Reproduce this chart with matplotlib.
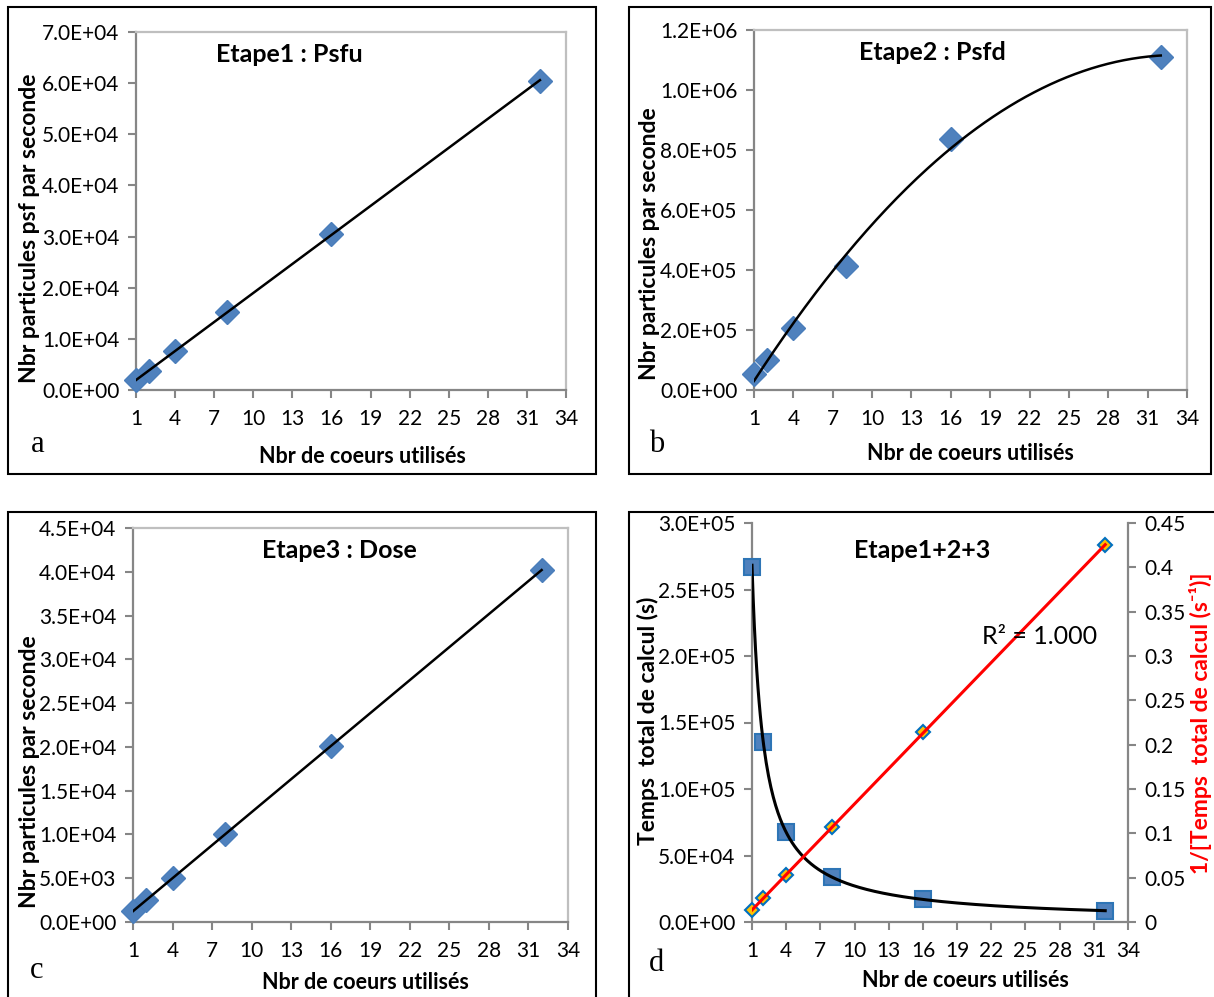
import numpy as np
from matplotlib import pyplot as plt
from matplotlib.patches import Rectangle
from matplotlib.ticker import FuncFormatter

# data
cores = [1, 2, 4, 8, 16, 32]
psfu_rate = [1.9e3, 3.8e3, 7.6e3, 1.52e4, 3.05e4, 6.05e4]
psfd_rate = [5.2e4, 1.0e5, 2.08e5, 4.15e5, 8.35e5, 1.11e6]
dose_rate = [1.25e3, 2.5e3, 5.0e3, 1.0e4, 2.01e4, 4.02e4]
total_time = [2.67e5, 1.35e5, 6.8e4, 3.35e4, 1.7e4, 8.5e3]
inv_time = [0.0133, 0.0266, 0.053, 0.107, 0.214, 0.425]

x_ticks = list(range(1, 35, 3))

W, H = 1214, 997
FONT = 'Lato'
SERIF = 'Liberation Serif'
GRAY = '#868686'
BLUE = '#4F81BD'
TICK_FS = 15
LABEL_FS = 15.5
YLABEL_FS = 16.5
TITLE_FS = 18

plt.rcParams['font.family'] = [FONT, 'DejaVu Sans']

fig = plt.figure(figsize=(W / 100, H / 100), dpi=100)


def box(l, t, r, b):
    return [l / W, 1 - b / H, (r - l) / W, (b - t) / H]


def ftext(x, y, s, **kw):
    fig.text(x / W, 1 - y / H, s, ha='center', va='center', **kw)


def sci(v, pos):
    return f"{v:.1E}"


def style_axes(ax, ymax, ystep, top=True):
    ax.set_xlim(1, 34)
    ax.set_ylim(0, ymax)
    ax.set_xticks(x_ticks)
    ax.set_yticks(np.arange(0, ymax + ystep / 2, ystep))
    ax.yaxis.set_major_formatter(FuncFormatter(sci))
    ax.tick_params(direction='out', length=6, width=1.5, color=GRAY,
                   labelsize=TICK_FS, pad=6)
    ax.tick_params(axis='x', pad=8)
    for name, sp in ax.spines.items():
        sp.set_color(GRAY if name in ('left', 'bottom') else '#BFBFBF')
        sp.set_linewidth(1.6)
    ax.spines['top'].set_visible(top)


def trend(ax, xs, ys, deg, **kw):
    coef = np.polyfit(xs, ys, deg)
    xx = np.linspace(min(xs), max(xs), 200)
    ax.plot(xx, np.polyval(coef, xx), **kw)


# panel frames
for l, t, r, b in [(8, 7, 596, 474), (629, 7, 1211, 474),
                   (8, 512, 596, 1005), (629, 512, 1220, 1005)]:
    fig.add_artist(Rectangle((l / W, 1 - b / H), (r - l) / W, (b - t) / H,
                             transform=fig.transFigure, fill=False,
                             edgecolor='black', linewidth=1.5))

diamond = dict(marker='D', ms=12.5, mfc=BLUE, mec='#4A7EBB', ls='none',
               zorder=3, clip_on=False)

# a
ax_a = fig.add_axes(box(136, 32, 566, 390))
style_axes(ax_a, 7e4, 1e4)
trend(ax_a, cores, psfu_rate, 1, color='black', lw=1.8, zorder=4)
ax_a.plot(cores, psfu_rate, **diamond)
ftext(289, 54, 'Etape1 : Psfu', fontsize=TITLE_FS, fontweight='bold')
ftext(30, 228, 'Nbr particules psf par seconde', fontsize=YLABEL_FS,
      fontweight='bold', rotation=90)
ftext(362, 456, 'Nbr de coeurs utilisés', fontsize=LABEL_FS,
      fontweight='bold')
ftext(38, 445, 'a', fontsize=22, family=SERIF)

# b
ax_b = fig.add_axes(box(754, 30, 1187, 390))
style_axes(ax_b, 1.2e6, 2e5)
trend(ax_b, cores, psfd_rate, 2, color='black', lw=1.8, zorder=4)
ax_b.plot(cores, psfd_rate, **diamond)
ftext(932, 52, 'Etape2 : Psfd', fontsize=TITLE_FS, fontweight='bold')
ftext(650, 244, 'Nbr particules par seconde', fontsize=YLABEL_FS,
      fontweight='bold', rotation=90)
ftext(970, 453, 'Nbr de coeurs utilisés', fontsize=LABEL_FS,
      fontweight='bold')
ftext(657, 444, 'b', fontsize=22, family=SERIF)

# c
ax_c = fig.add_axes(box(133, 528, 568, 922))
style_axes(ax_c, 4.5e4, 5e3)
trend(ax_c, cores, dose_rate, 1, color='black', lw=1.8, zorder=4)
ax_c.plot(cores, dose_rate, **diamond)
ftext(339, 550, 'Etape3 : Dose', fontsize=TITLE_FS, fontweight='bold')
ftext(30, 772, 'Nbr particules par seconde', fontsize=YLABEL_FS,
      fontweight='bold', rotation=90)
ftext(365, 982, 'Nbr de coeurs utilisés', fontsize=LABEL_FS,
      fontweight='bold')
ftext(37, 970, 'c', fontsize=22, family=SERIF)

# d
ax_d = fig.add_axes(box(752, 523, 1128, 922))
style_axes(ax_d, 3e5, 5e4, top=False)
ax_d.spines['right'].set_visible(False)
logc = np.polyfit(np.log(cores), np.log(total_time), 1)
xx = np.linspace(1, 32, 300)
ax_d.plot(xx, np.exp(logc[1]) * xx ** logc[0], color='black', lw=2.2,
          zorder=4)
ax_d.plot(cores, total_time, marker='s', ms=12, mfc=BLUE, mec='#2E75B6',
          mew=1.5, ls='none', zorder=3, clip_on=False)

ax_r = ax_d.twinx()
ax_r.set_ylim(0, 0.45)
ax_r.set_yticks(np.arange(0, 0.451, 0.05))
ax_r.yaxis.set_major_formatter(FuncFormatter(lambda v, p: f"{round(v, 2):g}"))
ax_r.tick_params(direction='out', length=6, width=1.5, color=GRAY,
                 labelsize=TICK_FS, pad=6)
for name, sp in ax_r.spines.items():
    sp.set_visible(name == 'right')
    sp.set_color(GRAY)
    sp.set_linewidth(1.6)
trend(ax_r, cores, inv_time, 1, color='red', lw=2.2, zorder=4)
ax_r.plot(cores, inv_time, marker='D', ms=7.5, mfc='#FFC000', mec='#0070C0',
          mew=1.5, ls='none', zorder=3, clip_on=False)

ftext(922, 551, 'Etape1+2+3', fontsize=TITLE_FS, fontweight='bold')
ftext(648, 721, 'Temps  total de calcul (s)', fontsize=YLABEL_FS,
      fontweight='bold', rotation=90)
ftext(1201, 723, '1/[Temps  total de calcul (s⁻¹)]', fontsize=YLABEL_FS,
      fontweight='bold', rotation=90, color='red')
ftext(1040, 637, 'R² = 1.000', fontsize=18)
ftext(965, 980, 'Nbr de coeurs utilisés', fontsize=LABEL_FS,
      fontweight='bold')
ftext(657, 963, 'd', fontsize=22, family=SERIF)

fig.savefig('out.png', dpi=100)
